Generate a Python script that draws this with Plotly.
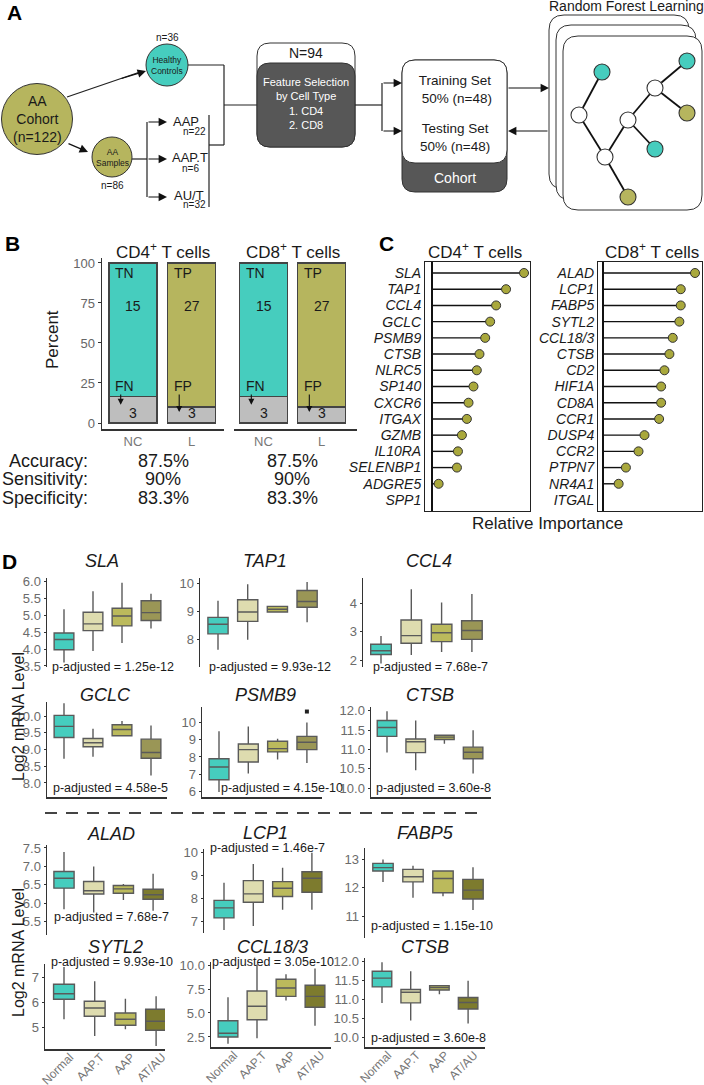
import plotly.graph_objects as go

W, H = 704, 1085
FONT = "Liberation Sans, Arial, sans-serif"

# ---------------- Panel B data ----------------
b_groups = ["NC", "L"]
b_correct_labels = ["TN", "TP"]
b_wrong_labels = ["FN", "FP"]
cd4_correct = [15, 27]
cd4_wrong = [3, 3]
cd8_correct = [15, 27]
cd8_wrong = [3, 3]
metric_names = ["Accuracy:", "Sensitivity:", "Specificity:"]
cd4_metrics = ["87.5%", "90%", "83.3%"]
cd8_metrics = ["87.5%", "90%", "83.3%"]

# ---------------- Panel C data ----------------
cd4_genes = ["SLA", "TAP1", "CCL4", "GCLC", "PSMB9", "CTSB", "NLRC5", "SP140", "CXCR6",
             "ITGAX", "GZMB", "IL10RA", "SELENBP1", "ADGRE5", "SPP1"]
cd4_importance = [100, 80.5, 69.7, 63.2, 57.8, 51.6, 48.7, 45.1, 39.7, 37.9, 32.5, 28.2, 27.1, 7.2, 0]
cd8_genes = ["ALAD", "LCP1", "FABP5", "SYTL2", "CCL18/3", "CTSB", "CD2", "HIF1A", "CD8A",
             "CCR1", "DUSP4", "CCR2", "PTPN7", "NR4A1", "ITGAL"]
cd8_importance = [100, 84.5, 84.5, 83.0, 75.8, 72.2, 66.8, 63.2, 63.2, 61.0, 45.1, 38.6, 24.9, 17.0, 0]

# ---------------- Panel D data: [lower whisker, Q1, median, Q3, upper whisker] per group ----------------
groups = ["Normal", "AAP.T", "AAP", "AT/AU"]
sla = [[3.60, 3.98, 4.28, 4.47, 5.17], [3.94, 4.54, 4.74, 5.08, 5.70],
       [4.18, 4.68, 4.97, 5.20, 5.95], [4.60, 4.84, 5.07, 5.42, 5.63]]
tap1 = [[7.65, 8.21, 8.55, 8.79, 9.38], [8.00, 8.65, 8.98, 9.41, 9.96],
        [8.98, 8.98, 9.08, 9.18, 9.20], [8.62, 9.15, 9.35, 9.74, 10.04]]
ccl4 = [[1.88, 2.20, 2.33, 2.56, 2.85], [2.18, 2.59, 2.86, 3.41, 4.49],
        [2.29, 2.65, 2.96, 3.26, 4.02], [2.29, 2.73, 3.04, 3.38, 4.32]]
gclc = [[8.72, 9.36, 9.69, 10.02, 10.38], [8.78, 9.08, 9.20, 9.33, 9.62],
        [9.41, 9.41, 9.60, 9.74, 9.85], [8.22, 8.74, 8.91, 9.31, 9.72]]
psmb9 = [[6.00, 6.70, 7.43, 7.90, 9.47], [7.05, 7.71, 8.42, 8.74, 9.75],
         [7.85, 8.29, 8.48, 8.90, 9.05], [7.66, 8.42, 8.84, 9.18, 9.98]]
psmb9_outlier = [None, None, None, 10.6]
ctsb = [[10.92, 11.34, 11.57, 11.75, 11.99], [10.46, 10.92, 11.20, 11.27, 11.75],
        [11.15, 11.26, 11.32, 11.37, 11.39], [10.38, 10.76, 10.93, 11.06, 11.50]]
alad = [[5.84, 6.41, 6.68, 6.86, 7.39], [5.75, 6.25, 6.34, 6.59, 7.00],
        [6.09, 6.27, 6.39, 6.48, 6.52], [5.80, 6.11, 6.23, 6.38, 6.80]]
lcp1 = [[6.65, 7.17, 7.60, 7.92, 8.68], [6.82, 7.84, 8.20, 8.77, 9.48],
        [7.52, 8.09, 8.44, 8.73, 9.32], [7.52, 8.27, 8.87, 9.15, 9.97]]
fabp5 = [[12.20, 12.58, 12.70, 12.85, 12.99], [11.64, 12.20, 12.38, 12.64, 12.77],
         [11.70, 11.82, 12.32, 12.58, 12.58], [11.21, 11.60, 11.91, 12.29, 12.71]]
sytl2 = [[5.31, 6.11, 6.33, 6.71, 7.40], [4.64, 5.43, 5.76, 6.03, 6.83],
         [4.91, 5.07, 5.31, 5.56, 6.13], [4.24, 4.87, 5.23, 5.71, 6.23]]
ccl18 = [[1.80, 2.50, 2.89, 4.19, 6.65], [2.36, 4.30, 5.70, 7.29, 10.07],
         [6.30, 6.73, 7.60, 8.52, 9.05], [3.66, 5.60, 6.73, 7.89, 9.65]]
p_values = {"SLA": "1.25e-12", "TAP1": "9.93e-12", "CCL4": "7.68e-7", "GCLC": "4.58e-5",
            "PSMB9": "4.15e-10", "CTSB": "3.60e-8", "ALAD": "7.68e-7", "LCP1": "1.46e-7",
            "FABP5": "1.15e-10", "SYTL2": "9.93e-10", "CCL18/3": "3.05e-10"}

TEAL = "#46CDBE"
OLIVE = "#B6B55E"
GREY = "#BEBEBE"
box_colors_top = ["#46CDBE", "#DEDCAF", "#BBBA5C", "#9A9656"]
box_colors_bot = ["#46CDBE", "#DEDCAF", "#BBBA5C", "#7D7B2E"]

fig = go.Figure()
layout = dict(template="none", width=W, height=H, margin=dict(l=0, r=0, t=0, b=0, pad=0),
              paper_bgcolor="white", plot_bgcolor="rgba(0,0,0,0)", showlegend=False,
              boxmode="overlay", barmode="stack", font=dict(family=FONT, color="#1a1a1a"))
shapes, annos = [], []
ax_n = [0]


def new_axes(x0, x1, y0, y1, xr, yr, xkw=None, ykw=None):
    ax_n[0] += 1
    n = ax_n[0]
    sfx = "" if n == 1 else str(n)
    xref, yref = "x" + sfx, "y" + sfx
    base = dict(showgrid=False, zeroline=False, fixedrange=True, automargin=False)
    xd = dict(base, domain=[x0 / W, x1 / W], range=xr, anchor=yref)
    yd = dict(base, domain=[1 - y1 / H, 1 - y0 / H], range=yr, anchor=xref)
    xd.update(xkw or {})
    yd.update(ykw or {})
    layout["xaxis" + sfx] = xd
    layout["yaxis" + sfx] = yd
    return xref, yref


# pixel overlay axes (x, y): 1 unit = 1 screen pixel, y downward
new_axes(0, W, 0, H, [0, W], [H, 0], dict(visible=False), dict(visible=False))
fig.add_trace(go.Scatter(x=[None], y=[None], xaxis="x", yaxis="y", hoverinfo="skip"))


def txt(x, y, t, size=12, color="#1a1a1a", xanchor="center", angle=0, xref="x", yref="y", **kw):
    annos.append(dict(x=x, y=y, text=t, xref=xref, yref=yref, showarrow=False, xanchor=xanchor,
                      yanchor="middle", textangle=angle, font=dict(size=size, color=color, family=FONT), **kw))


def line(x0, y0, x1, y1, color="#222", width=1.2, dash=None):
    shapes.append(dict(type="line", xref="x", yref="y", x0=x0, y0=y0, x1=x1, y1=y1, layer="above",
                       line=dict(color=color, width=width, dash=dash)))


def arrow(x0, y0, x1, y1, xref="x", yref="y", size=1.4, width=1.2):
    annos.append(dict(x=x1, y=y1, ax=x0, ay=y0, xref=xref, yref=yref, axref=xref, ayref=yref, text="",
                      showarrow=True, arrowhead=2, arrowsize=size, arrowwidth=width, arrowcolor="#111",
                      standoff=0, startstandoff=0))


def circle(cx, cy, r, fill, lw=1.0):
    shapes.append(dict(type="circle", xref="x", yref="y", x0=cx - r, y0=cy - r, x1=cx + r, y1=cy + r,
                       fillcolor=fill, line=dict(color="#333", width=lw), layer="above"))


def rrect(x0, y0, x1, y1, r, fill, lc="#333", lw=1.0):
    p = (f"M{x0 + r},{y0} L{x1 - r},{y0} Q{x1},{y0} {x1},{y0 + r} L{x1},{y1 - r} Q{x1},{y1} {x1 - r},{y1} "
         f"L{x0 + r},{y1} Q{x0},{y1} {x0},{y1 - r} L{x0},{y0 + r} Q{x0},{y0} {x0 + r},{y0} Z")
    shapes.append(dict(type="path", xref="x", yref="y", path=p, fillcolor=fill,
                       line=dict(color=lc, width=lw), layer="above"))


# ======================= Panel letters =======================
for L_, x_, y_ in [("A", 14, 12), ("B", 12, 243), ("C", 386, 243), ("D", 9, 561)]:
    txt(x_, y_, f"<b>{L_}</b>", size=21, color="#000")

# ======================= Panel A =======================
line(67, 97, 140, 72, width=1.3)
arrow(120, 79, 146, 71)
arrow(67, 143, 88, 152)
circle(37, 119, 35.5, OLIVE)
txt(37, 119, "AA<br>Cohort<br>(n=122)", size=14)
circle(167, 65, 21, TEAL)
txt(167, 65, "Healthy<br>Controls", size=8.5)
txt(167, 37, "n=36", size=10)
circle(112, 157, 20, OLIVE)
txt(112, 157, "AA<br>Samples", size=8.5)
txt(112, 185, "n=86", size=10)
line(132, 159, 147, 159)
line(147, 122, 147, 197)
for yy in (122, 159, 197):
    arrow(147, yy, 167, yy)
txt(171, 121, "AAP", size=13, xanchor="left")
txt(208, 131, "n=22", size=10, xanchor="right")
txt(170, 157, "AAP.T", size=13, xanchor="left")
txt(201, 168, "n=6", size=10, xanchor="right")
txt(172, 195, "AU/T", size=13, xanchor="left")
txt(208, 204, "n=32", size=10, xanchor="right")
line(209, 115, 209, 207)
line(209, 145, 224, 145)
line(224, 65, 224, 145)
line(188, 65, 224, 65)
line(224, 105, 257, 105)
rrect(257, 43, 355, 147, 13, "white")
rrect(257, 63, 355, 147, 13, "#575757")
txt(306, 53, "N=94", size=14)
txt(306, 103, "Feature Selection<br>by Cell Type<br>1. CD4<br>2. CD8", size=11, color="white")
line(355, 105, 382, 105)
line(382, 83, 382, 131)
arrow(382, 83, 402, 83)
arrow(382, 131, 402, 131)
rrect(402, 60, 507, 192, 13, "#575757")
rrect(402, 60, 507, 163, 13, "white")
txt(455, 89, "Training Set<br> 50% (n=48)", size=13.5)
txt(455, 137, "Testing Set<br>50% (n=48)", size=13.5)
txt(455, 178, "Cohort", size=14, color="white")
arrow(507, 88, 549, 88)
arrow(549, 131, 508, 131)
rrect(549, 15, 689, 189, 15, "white")
rrect(556, 25, 696, 200, 15, "white")
rrect(563, 36, 702, 210, 15, "white")
txt(626, 6, "Random Forest Learning", size=14)
tree_edges = [((579, 115), (602, 72)), ((579, 115), (605, 157)), ((605, 157), (628, 120)),
              ((605, 157), (628, 197)), ((628, 120), (655, 88)), ((628, 120), (655, 149)),
              ((655, 88), (687, 61)), ((655, 88), (687, 113))]
for (a, b) in tree_edges:
    line(a[0], a[1], b[0], b[1], color="#111", width=1.8)
for (cx, cy, col) in [(579, 115, "white"), (605, 157, "white"), (628, 120, "white"), (655, 88, "white"),
                      (602, 72, TEAL), (687, 61, TEAL), (655, 149, TEAL), (687, 113, OLIVE),
                      (628, 197, OLIVE)]:
    circle(cx, cy, 8, col, lw=1.1)

# ======================= Panel B =======================
b_y0, b_y1 = 258, 429
b_yr = [-3.75, 103.1]
for k, (correct, wrong, x0, x1, c_nc, c_l) in enumerate(
        [(cd4_correct, cd4_wrong, 102, 224, 133, 191.5), (cd8_correct, cd8_wrong, 234, 357, 263.5, 321.5)]):
    sp = c_l - c_nc
    xr = [(x0 - c_nc) / sp, (x1 - c_nc) / sp]
    ykw = dict(showline=True, linecolor="#333", linewidth=1.5, ticks="outside", ticklen=3, tickcolor="#333",
               tickvals=[0, 25, 50, 75, 100], tickfont=dict(size=13, color="#666"))
    if k == 1:
        ykw = dict(showline=False, showticklabels=False, ticks="")
    xa, ya = new_axes(x0, x1, b_y0, b_y1, xr, b_yr,
                      dict(showline=True, linecolor="#333", linewidth=1.5, tickvals=[0, 1], ticktext=b_groups,
                           ticks="", tickfont=dict(size=13, color="#777")), ykw)
    totals = [c + w for c, w in zip(correct, wrong)]
    wrong_pct = [w / t * 100 for w, t in zip(wrong, totals)]
    correct_pct = [c / t * 100 for c, t in zip(correct, totals)]
    fig.add_trace(go.Bar(x=[0, 1], y=wrong_pct, width=0.82, marker=dict(color=GREY, line=dict(color="#444", width=1.3)),
                         xaxis=xa, yaxis=ya, hoverinfo="skip"))
    fig.add_trace(go.Bar(x=[0, 1], y=correct_pct, width=0.82,
                         marker=dict(color=[TEAL, OLIVE], line=dict(color="#444", width=1.3)),
                         xaxis=xa, yaxis=ya, hoverinfo="skip"))
    for i in range(2):
        txt(i - 0.14, 93.8, b_correct_labels[i], size=14, xref=xa, yref=ya)
        txt(i, 73, str(correct[i]), size=14, xref=xa, yref=ya)
        txt(i - 0.14, 23.1, b_wrong_labels[i], size=14, xref=xa, yref=ya)
        txt(i, 6.2, str(wrong[i]), size=14, xref=xa, yref=ya)
        arrow(i - 0.21, 18.8, i - 0.21, wrong_pct[i] * 0.68, xref=xa, yref=ya, size=1.1, width=1.1)
txt(163, 251, "CD4<sup>+</sup> T cells", size=17)
txt(293, 251, "CD8<sup>+</sup> T cells", size=17)
txt(52, 340, "Percent", size=17, angle=-90)
for j, name in enumerate(metric_names):
    yy = [461, 479, 498][j]
    txt(90, yy, name, size=18, xanchor="right")
    txt(163, yy, cd4_metrics[j], size=18)
    txt(292, yy, cd8_metrics[j], size=18)

# ======================= Panel C =======================
c_y0, c_y1 = 262, 511
row_top, row_sp = 273, (500 - 273) / 14
c_yr = [(c_y1 - row_top) / row_sp, (c_y0 - row_top) / row_sp]
for genes, imp, x0, x1, zero_px in [(cd4_genes, cd4_importance, 425, 530, 432),
                                     (cd8_genes, cd8_importance, 598, 702, 603)]:
    scale = 92 / 100
    xr = [(x0 - zero_px) / scale, (x1 - zero_px) / scale]
    idx = list(range(len(genes)))
    xa, ya = new_axes(x0, x1, c_y0, c_y1, xr, c_yr,
                      dict(showline=True, mirror=True, linecolor="#222", linewidth=1, showticklabels=False,
                           ticks="", zeroline=True, zerolinecolor="#111", zerolinewidth=1.6),
                      dict(showline=True, mirror=True, linecolor="#222", linewidth=1, ticks="",
                           tickvals=idx, ticktext=[f"<i>{g}</i>" for g in genes],
                           tickfont=dict(size=14, color="#1a1a1a")))
    sx, sy = [], []
    for i, v in zip(idx, imp):
        sx += [0, v, None]
        sy += [i, i, None]
    fig.add_trace(go.Scatter(x=sx, y=sy, mode="lines", line=dict(color="#111", width=1.4),
                             xaxis=xa, yaxis=ya, hoverinfo="skip"))
    mx = [v for v in imp if v > 0]
    my = [i for i, v in zip(idx, imp) if v > 0]
    fig.add_trace(go.Scatter(x=mx, y=my, mode="markers",
                             marker=dict(size=9, color="#A9A83C", line=dict(color="#333", width=1)),
                             xaxis=xa, yaxis=ya, hoverinfo="skip"))
txt(475, 251, "CD4<sup>+</sup> T cells", size=17)
txt(652, 251, "CD8<sup>+</sup> T cells", size=17)
txt(547, 523, "Relative Importance", size=17)


# ======================= Panel D =======================
def box_panel(gene, stats, ax_x, c0, sp, y0, y1, yr, dtick, fmt, xline, xlabels, colors,
              title_xy, p_xy, outliers=None):
    xr = [(ax_x - c0) / sp, (ax_x + 120 - c0) / sp]
    xkw = dict(showline=xline, linecolor="#333", linewidth=1.5, tickvals=list(range(len(groups))),
               ticktext=groups, showticklabels=xlabels, tickangle=-45, ticks="",
               ticklabelshift=6, ticklabelstandoff=-5,
               tickfont=dict(size=12, color="#777"))
    ykw = dict(showline=True, linecolor="#333", linewidth=1.5, ticks="outside", ticklen=2, tickcolor="#333",
               dtick=dtick, tick0=0, tickformat=fmt, tickfont=dict(size=13, color="#6b6b6b"))
    xa, ya = new_axes(ax_x, ax_x + 120, y0, y1, xr, yr, xkw, ykw)
    for gi, (st, col) in enumerate(zip(stats, colors)):
        fig.add_trace(go.Box(x=[gi], lowerfence=[st[0]], q1=[st[1]], median=[st[2]], q3=[st[3]],
                             upperfence=[st[4]], width=0.68, whiskerwidth=0, boxpoints=False,
                             fillcolor=col, line=dict(color="#5a5a5a", width=1.4),
                             xaxis=xa, yaxis=ya, hoverinfo="skip"))
    if outliers:
        ox = [i for i, o in enumerate(outliers) if o is not None]
        oy = [o for o in outliers if o is not None]
        fig.add_trace(go.Scatter(x=ox, y=oy, mode="markers", marker=dict(size=4, color="#222", symbol="square"),
                                 xaxis=xa, yaxis=ya, hoverinfo="skip"))
    txt(title_xy[0], title_xy[1], f"<i>{gene}</i>", size=18)
    txt(p_xy[0], p_xy[1], f"p-adjusted = {p_values[gene]}", size=12.5)


T, B = box_colors_top, box_colors_bot
box_panel("SLA", sla, 47, 64, 29, 578, 667, [3.47, 6.09], 0.5, ".1f", False, False, T, (102, 561), (113, 667))
box_panel("TAP1", tap1, 200, 218, 29.7, 578, 667, [7.04, 10.18], 1, "d", False, False, T, (265, 561), (270, 667))
box_panel("CCL4", ccl4, 363, 381, 30.3, 578, 667, [1.76, 4.88], 1, "d", False, False, T, (429, 561), (430, 667))
box_panel("GCLC", gclc, 47, 64, 29, 702, 797, [7.58, 10.42], 0.5, ".1f", True, False, T, (105, 695), (110, 788))
box_panel("PSMB9", psmb9, 202, 219, 29.3, 707, 797, [5.71, 10.86], 1, "d", True, False, T, (265, 695), (282, 788),
          outliers=psmb9_outlier)
box_panel("CTSB", ctsb, 371, 387, 28.7, 707, 797, [9.77, 12.1], 0.5, ".1f", True, False, T, (430, 695), (433, 788))
box_panel("ALAD", alad, 47, 64, 29.7, 845, 935, [5.14, 7.58], 0.5, ".1f", False, False, B, (111, 834), (111, 917))
box_panel("LCP1", lcp1, 204, 224, 29.3, 849, 933, [6.52, 10.13], 1, "d", False, False, B, (265, 833), (267, 848))
box_panel("FABP5", fabp5, 365, 383, 30, 848, 938, [10.23, 13.39], 1, "d", False, False, B, (425, 833), (432, 926))
box_panel("SYTL2", sytl2, 45, 64, 30.7, 964, 1049, [4.12, 7.52], 1, "d", True, True, B, (115, 947), (112, 962))
box_panel("CCL18/3", ccl18, 211, 228, 29, 962, 1047, [1.45, 10.32], 2.5, ".1f", True, True, B, (272, 947), (273, 962))
box_panel("CTSB", ctsb, 365, 382, 28.7, 958, 1047, [9.76, 12.1], 0.5, ".1f", True, True, B, (425, 947), (428, 1038))

txt(18, 717, "Log2 mRNA Level", size=16, angle=-90)
txt(18, 953, "Log2 mRNA Level", size=16, angle=-90)
line(45, 813, 482, 813, color="#444", width=2, dash="12px,9px")

layout["shapes"] = shapes
layout["annotations"] = annos
fig.update_layout(**layout)
fig.write_html("out.html", config={"displayModeBar": False, "staticPlot": True},
               post_script="document.body.style.margin='0px';"
                           "document.documentElement.style.overflow='hidden';"
                           "document.body.style.overflow='hidden';")
